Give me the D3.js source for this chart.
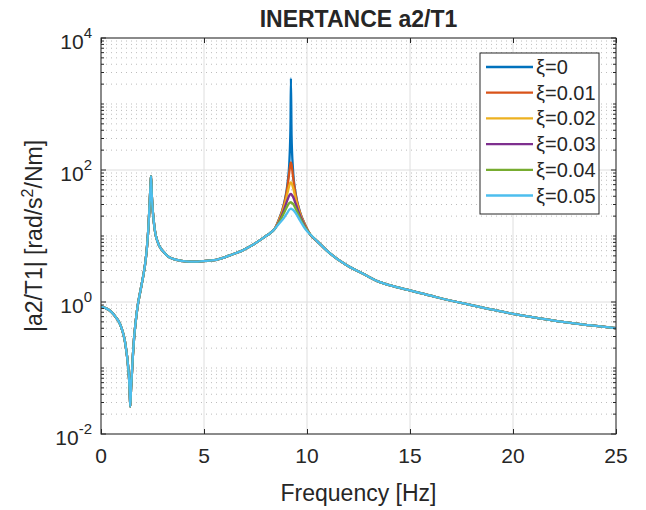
<!DOCTYPE html>
<html lang="en">
<head>
<meta charset="utf-8">
<title>Inertance a2/T1</title>
<script src="https://d3js.org/d3.v7.min.js"></script>
<style>
body { margin: 0; background: #fff; }
text { font-family: "Liberation Sans", Arial, Helvetica, sans-serif; fill: #262626; }
</style>
</head>
<body>
<div id="chart"></div>
<script>
// frequency response, shared part before the 2nd mode
var freqLow = [0, 0.25, 0.5, 0.7, 0.9, 1.0, 1.07, 1.15, 1.23, 1.28, 1.32, 1.36, 1.39, 1.42, 1.46, 1.5, 1.55, 1.6, 1.66, 1.72, 1.78, 1.85, 1.92, 2.0, 2.07, 2.14, 2.2, 2.25, 2.3, 2.34, 2.38, 2.41, 2.43, 2.46, 2.5, 2.55, 2.6, 2.66, 2.73, 2.81, 2.9, 3.05, 3.25, 3.5, 3.9, 4.3, 4.7, 5.1, 5.5, 6.0, 6.33, 6.8, 7.14, 7.5, 7.95, 8.2, 8.43];
var magLow = [0.85, 0.8, 0.71, 0.6, 0.48, 0.4, 0.34, 0.265, 0.182, 0.138, 0.102, 0.071, 0.047, 0.026, 0.05, 0.083, 0.158, 0.269, 0.427, 0.63, 0.87, 1.17, 1.51, 2.04, 2.69, 3.72, 5.37, 7.94, 13.2, 22.9, 41.7, 63, 81, 45.7, 27.5, 18.2, 13.2, 10.2, 8.5, 7.3, 6.5, 5.7, 4.9, 4.5, 4.2, 4.1, 4.1, 4.2, 4.3, 4.75, 5.2, 5.9, 6.7, 7.8, 9.7, 11.0, 12.8];

// around the 2nd mode, one list per damping ratio
var freqPeak = [8.6, 8.9, 9.05, 9.15, 9.2, 9.22, 9.25, 9.32, 9.45, 9.65, 9.9];
var magXi000 = [16.8, 32.5, 61, 147, 515, 2450, 340, 102, 44, 23.7, 15];
var magXi001 = [16.5, 31.3, 54.9, 97.6, 126, 130, 120.7, 80, 41.9, 23.3, 14.9];
var magXi002 = [16.1, 28.9, 44.4, 59.6, 64.7, 65, 63.4, 54.5, 36.6, 22.3, 14.6];
var magXi003 = [15.6, 25.8, 35.2, 41.5, 43.1, 43.3, 42.5, 39.5, 30.8, 20.8, 14.2];
var magXi004 = [15.2, 22.9, 28.6, 31.7, 32.4, 32.5, 32.0, 30.7, 26, 19.1, 13.6];
var magXi005 = [14.8, 19.2, 22.6, 25.2, 25.9, 26, 25.7, 25, 22.3, 17.4, 13];

// shared part after the 2nd mode
var freqHigh = [10.15, 10.5, 11.1, 11.93, 12.7, 13.54, 14.3, 15.08, 16.3, 17.6, 18.8, 20, 21.2, 22.4, 23.7, 25];
var magHigh = [10.6, 8.3, 5.5, 3.6, 2.7, 2.0, 1.7, 1.48, 1.18, 0.95, 0.79, 0.66, 0.57, 0.5, 0.445, 0.4];

var seriesNames = ["ξ=0", "ξ=0.01", "ξ=0.02", "ξ=0.03", "ξ=0.04", "ξ=0.05"];
var seriesPeaks = [magXi000, magXi001, magXi002, magXi003, magXi004, magXi005];
var seriesColors = ["#0072BD", "#D95319", "#EDB120", "#7E2F8E", "#77AC30", "#4DBEEE"];

var xTicks = [0, 5, 10, 15, 20, 25];
var yTicks = [-2, 0, 2, 4];   // exponents of 10

//Width and height
var w = 646;
var h = 510;
var pl = 101, pr = 616, pt = 38, pb = 434;

var xScale = d3.scaleLinear().domain([0, 25]).range([pl, pr]);
var yScale = d3.scaleLog().domain([1e-2, 1e4]).range([pb, pt]);

var svg = d3.select("#chart")
	.append("svg")
	.attr("width", w)
	.attr("height", h);

svg.append("defs").append("clipPath").attr("id", "clip")
	.append("rect")
	.attr("x", pl).attr("y", pt)
	.attr("width", pr - pl).attr("height", pb - pt);

// minor grid (dotted) on y
var minor = [];
for (var e = -2; e < 4; e++) {
	for (var m = 1; m <= 9; m++) {
		if (m === 1 && e % 2 === 0) continue;
		minor.push(m * Math.pow(10, e));
	}
}
svg.append("g").selectAll("line")
	.data(minor)
	.enter().append("line")
	.attr("x1", pl).attr("x2", pr)
	.attr("y1", d => yScale(d)).attr("y2", d => yScale(d))
	.attr("stroke", "#bdbdbd")
	.attr("stroke-width", 1)
	.attr("stroke-dasharray", "1,4");

// major grid
svg.append("g").selectAll("line")
	.data(yTicks)
	.enter().append("line")
	.attr("x1", pl).attr("x2", pr)
	.attr("y1", d => yScale(Math.pow(10, d))).attr("y2", d => yScale(Math.pow(10, d)))
	.attr("stroke", "#dedede");
svg.append("g").selectAll("line")
	.data(xTicks)
	.enter().append("line")
	.attr("y1", pt).attr("y2", pb)
	.attr("x1", d => xScale(d)).attr("x2", d => xScale(d))
	.attr("stroke", "#dedede");

// curves
var line = d3.line()
	.x(d => xScale(d.f))
	.y(d => yScale(d.v))
	.curve(d3.curveMonotoneX);

var series = seriesPeaks.map(function(peak, k) {
	var pts = freqLow.map((f, i) => ({f: f, v: magLow[i]}))
		.concat(freqPeak.map((f, i) => ({f: f, v: peak[i]})))
		.concat(freqHigh.map((f, i) => ({f: f, v: magHigh[i]})));
	return {name: seriesNames[k], color: seriesColors[k], pts: pts};
});

svg.append("g")
	.attr("clip-path", "url(#clip)")
	.selectAll("path")
	.data(series)
	.enter().append("path")
	.attr("d", d => line(d.pts))
	.attr("fill", "none")
	.attr("stroke", d => d.color)
	.attr("stroke-width", 2.3)
	.attr("stroke-linejoin", "round");

// axes box
svg.append("rect")
	.attr("x", pl).attr("y", pt)
	.attr("width", pr - pl).attr("height", pb - pt)
	.attr("fill", "none")
	.attr("stroke", "#262626")
	.attr("stroke-width", 1);

// ticks
var xAxis = d3.axisBottom(xScale).tickValues(xTicks).tickSize(5).tickFormat("");
var xAxisTop = d3.axisTop(xScale).tickValues(xTicks).tickSize(5).tickFormat("");
svg.append("g").attr("transform", "translate(0," + pb + ")").call(xAxis)
	.call(g => g.select(".domain").remove())
	.call(g => g.selectAll(".tick line").attr("stroke", "#262626").attr("y2", -5));
svg.append("g").attr("transform", "translate(0," + pt + ")").call(xAxisTop)
	.call(g => g.select(".domain").remove())
	.call(g => g.selectAll(".tick line").attr("stroke", "#262626").attr("y2", 5));

var yAll = minor.concat(yTicks.map(d => Math.pow(10, d)));
svg.append("g").selectAll("line")
	.data(yAll)
	.enter().append("line")
	.attr("x1", pl).attr("x2", d => pl + (minor.indexOf(d) >= 0 ? 3 : 5))
	.attr("y1", d => yScale(d)).attr("y2", d => yScale(d))
	.attr("stroke", "#262626");
svg.append("g").selectAll("line")
	.data(yAll)
	.enter().append("line")
	.attr("x1", pr).attr("x2", d => pr - (minor.indexOf(d) >= 0 ? 3 : 5))
	.attr("y1", d => yScale(d)).attr("y2", d => yScale(d))
	.attr("stroke", "#262626");

// tick labels
svg.append("g").selectAll("text")
	.data(xTicks)
	.enter().append("text")
	.attr("x", d => xScale(d))
	.attr("y", pb + 29)
	.attr("text-anchor", "middle")
	.attr("font-size", 21)
	.text(d => d);

var yl = svg.append("g").selectAll("text")
	.data(yTicks)
	.enter().append("text")
	.attr("x", pl - 9)
	.attr("y", d => yScale(Math.pow(10, d)) + 11)
	.attr("text-anchor", "end")
	.attr("font-size", 21);
yl.append("tspan").text("10");
yl.append("tspan").attr("dy", -11).attr("font-size", 15).text(d => d);

// title and labels
svg.append("text")
	.attr("x", (pl + pr) / 2)
	.attr("y", 27)
	.attr("text-anchor", "middle")
	.attr("font-size", 23)
	.attr("font-weight", "bold")
	.text("INERTANCE a2/T1");

svg.append("text")
	.attr("x", (pl + pr) / 2)
	.attr("y", 501)
	.attr("text-anchor", "middle")
	.attr("font-size", 23)
	.text("Frequency [Hz]");

var ylab = svg.append("text")
	.attr("transform", "translate(42," + ((pt + pb) / 2) + ") rotate(-90)")
	.attr("text-anchor", "middle")
	.attr("font-size", 23);
ylab.append("tspan").text("|a2/T1| [rad/s");
ylab.append("tspan").attr("dy", -9).attr("font-size", 16).text("2");
ylab.append("tspan").attr("dy", 9).text("/Nm]");

// legend
var lg = svg.append("g").attr("transform", "translate(480,53)");
lg.append("rect")
	.attr("width", 119).attr("height", 161)
	.attr("fill", "#fff")
	.attr("stroke", "#262626");
var item = lg.selectAll("g.item")
	.data(series)
	.enter().append("g")
	.attr("transform", (d, i) => "translate(0," + (14 + i * 25.7) + ")");
item.append("line")
	.attr("x1", 6).attr("x2", 53)
	.attr("stroke", d => d.color)
	.attr("stroke-width", 2.3);
item.append("text")
	.attr("x", 56).attr("y", 7)
	.attr("font-size", 20)
	.text(d => d.name);
</script>
</body>
</html>
